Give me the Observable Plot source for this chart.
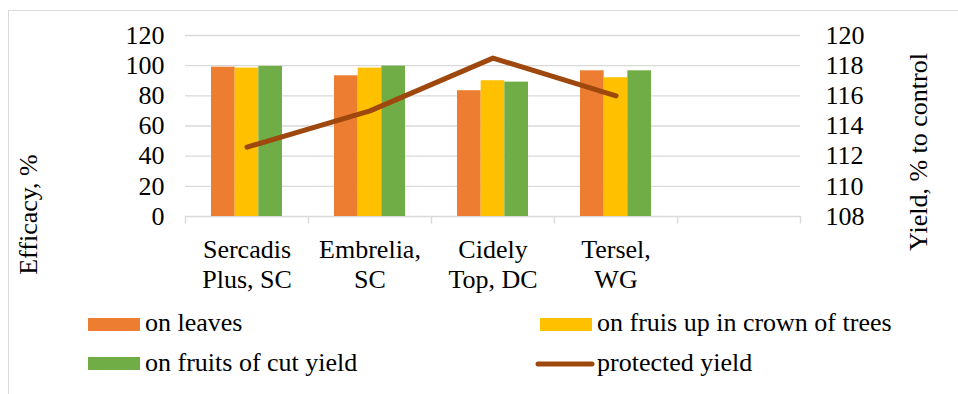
<!DOCTYPE html>
<html><head><meta charset="utf-8">
<script src="https://cdn.jsdelivr.net/npm/d3@7"></script>
<script src="https://cdn.jsdelivr.net/npm/@observablehq/plot@0.6"></script>
<style>
body{margin:0;background:#fff;font-family:'Liberation Serif',serif;}
#wrap{position:relative;width:958px;height:394px;overflow:hidden;background:#fff;}
#frame{position:absolute;left:8px;top:10px;width:2000px;height:2000px;border-left:1px solid #d9d9d9;border-top:1px solid #d9d9d9;}
#chart{position:absolute;left:0;top:0;}
.lg{position:absolute;font-family:'Liberation Serif',serif;font-size:26px;line-height:26px;color:#000;white-space:nowrap;}
.sw{position:absolute;width:52px;height:13px;}
</style></head><body>
<div id="wrap"><div id="frame"></div><div id="chart"></div>
<div class="sw" style="left:88px;top:318px;background:#ED7D31"></div>
<div class="lg" id="l0" style="left:145px;top:309.5px"></div>
<div class="sw" style="left:540px;top:318px;background:#FFC000"></div>
<div class="lg" id="l1" style="left:597px;top:309.5px"></div>
<div class="sw" style="left:88px;top:357px;background:#70AD47"></div>
<div class="lg" id="l2" style="left:145px;top:349.5px"></div>
<svg style="position:absolute;left:534px;top:359px" width="62" height="10"><line x1="4" y1="5" x2="58" y2="5" stroke="#9E480E" stroke-width="5" stroke-linecap="round"/></svg>
<div class="lg" id="l3" style="left:597px;top:349.5px"></div>
</div>
<script>
const categories = ["Sercadis\nPlus, SC", "Embrelia,\nSC", "Cidely\nTop, DC", "Tersel,\nWG"];
const onLeaves = [99, 93.3, 83.4, 96.6];
const onFruitsCrown = [98.4, 98.4, 90, 92];
const onFruitsCut = [99.5, 99.7, 89.1, 96.6];
const protectedYield = [112.6, 115.0, 118.5, 116.0];
const efficacyTicks = [0, 20, 40, 60, 80, 100, 120];
const yieldTicks = [108, 110, 112, 114, 116, 118, 120];
const seriesNames = ["on leaves", "on fruis up in crown of trees", "on fruits of cut yield", "protected yield"];
const colors = ["#ED7D31", "#FFC000", "#70AD47", "#9E480E"];

["l0","l1","l2","l3"].forEach((id, i) => document.getElementById(id).textContent = seriesNames[i]);

const y0 = efficacyTicks[0], y1 = efficacyTicks[efficacyTicks.length - 1];
const r0 = yieldTicks[0], r1 = yieldTicks[yieldTicks.length - 1];
const toLeft = v => (v - r0) / (r1 - r0) * (y1 - y0) + y0;
const fromLeft = v => (v - y0) / (y1 - y0) * (r1 - r0) + r0;

const xDomain = [...categories, " "];
const series = [onLeaves, onFruitsCrown, onFruitsCut];
const band = 123, groupPad = 26, barW = (band - 2 * groupPad) / 3;

const barMarks = series.map((vals, i) => Plot.barY(
  categories.map((c, j) => ({cat: c, value: vals[j]})),
  {x: "cat", y: "value", fill: colors[i],
   insetLeft: groupPad + i * barW, insetRight: band - groupPad - (i + 1) * barW}
));

const lineData = categories.map((c, j) => ({cat: c, y: toLeft(protectedYield[j])}));
const grid = "#d9d9d9";
const FF = "'Liberation Serif', serif";

const chart = Plot.plot({
  width: 958, height: 300,
  marginLeft: 185, marginRight: 158, marginTop: 35, marginBottom: 84,
  style: {fontFamily: FF, fontSize: "26px", color: "#000", background: "transparent"},
  x: {domain: xDomain, padding: 0, axis: null},
  y: {domain: [y0, y1], axis: null},
  marks: [
    Plot.ruleY(efficacyTicks, {stroke: grid, strokeWidth: 1.4}),
    Plot.ruleX(xDomain, {x: d => d, y1: 0, y2: -5, dx: -band / 2, stroke: grid, strokeWidth: 1.4}),
    Plot.ruleX([xDomain[xDomain.length - 1]], {x: d => d, y1: 0, y2: -5, dx: band / 2, stroke: grid, strokeWidth: 1.4}),
    ...barMarks,
    Plot.line(lineData, {x: "cat", y: "y", stroke: colors[3], strokeWidth: 5, strokeLinecap: "round", strokeLinejoin: "round"}),
    Plot.axisY({ticks: efficacyTicks, anchor: "left", tickSize: 0, tickPadding: 21, label: null, fontFamily: FF, fontVariant: "normal"}),
    Plot.axisY({ticks: yieldTicks.map(toLeft), tickFormat: d => String(Math.round(fromLeft(d))), anchor: "right", tickSize: 0, tickPadding: 25, label: null, fontFamily: FF, fontVariant: "normal"}),
    Plot.axisX({tickSize: 0, tickPadding: 20.5, label: null, lineHeight: 1.15, fontFamily: FF}),
    Plot.text(["Efficacy, %"], {text: d => d, frameAnchor: "left", textAnchor: "middle", rotate: -90, dx: -157, dy: 88.5, fontFamily: FF}),
    Plot.text(["Yield, % to control"], {text: d => d, frameAnchor: "right", textAnchor: "middle", rotate: -90, dx: 118, dy: 26, fontFamily: FF})
  ]
});
document.getElementById("chart").appendChild(chart);
</script>
</body></html>
